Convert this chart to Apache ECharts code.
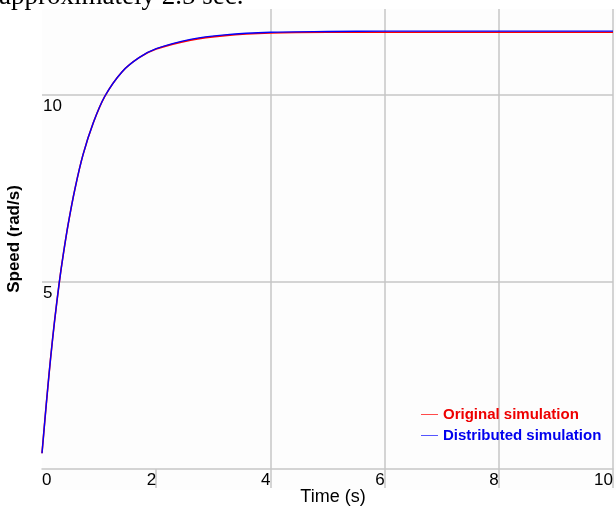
<!DOCTYPE html>
<html>
<head>
<meta charset="utf-8">
<script src="https://cdn.jsdelivr.net/npm/echarts@6/dist/echarts.min.js"></script>
<style>
  html, body { margin: 0; padding: 0; background: #fff; }
  #main { width: 616px; height: 506px; }
</style>
</head>
<body>
<div id="main"></div>
<script>
// time (s)
const timeSec = [0, 0.05, 0.1, 0.15, 0.22, 0.3, 0.37, 0.46, 0.58, 0.72, 0.9, 1.1, 1.4, 1.7, 2.0, 2.6, 3.2, 4.0, 5, 6, 7, 8, 9, 10];
// speed (rad/s)
const speedOriginal = [0.42, 1.3, 2.15, 2.95, 3.95, 4.95, 5.7, 6.55, 7.5, 8.4, 9.25, 9.95, 10.6, 10.98, 11.21, 11.45, 11.57, 11.64, 11.66, 11.66, 11.66, 11.66, 11.66, 11.66];
const speedDistributed = [0.42, 1.3, 2.15, 2.95, 3.95, 4.95, 5.7, 6.55, 7.5, 8.4, 9.25, 9.95, 10.6, 10.98, 11.22, 11.47, 11.59, 11.66, 11.68, 11.69, 11.69, 11.69, 11.69, 11.69];
const xTicks = [2, 4, 6, 8, 10];
const seriesNames = ["Original simulation", "Distributed simulation"];
const seriesColors = ["#ff0000", "#0000ff"];

const pairs = (xs, ys) => xs.map((x, i) => [x, ys[i]]);

const chart = echarts.init(document.getElementById("main"), null, { renderer: "canvas" });

const gridColor = "#c6c6c6";
const labelFont = "Liberation Sans, Arial, sans-serif";

const option = {
  animation: false,
  backgroundColor: "#ffffff",
  graphic: [
    {
      type: "rect",
      z: -10,
      shape: { x: 42, y: 9, width: 574, height: 481 },
      style: { fill: "#fdfdfd" },
      silent: true,
    },
    {
      // caption of the page above the figure, mostly cut off
      type: "text",
      x: -1,
      y: 10,
      style: {
        text: "approximately 2.5 sec.",
        font: "27px 'Liberation Serif', 'Times New Roman', serif",
        fill: "#000",
        verticalAlign: "bottom",
      },
      silent: true,
    },
  ],
  grid: { left: 42, right: 3, top: 9, bottom: 37, containLabel: false, outerBoundsMode: "none" },
  legend: {
    orient: "vertical",
    left: 421,
    top: 407,
    padding: 0,
    icon: "rect",
    itemWidth: 17,
    itemHeight: 1,
    itemGap: 6,
    textStyle: { fontFamily: labelFont, fontSize: 15, fontWeight: "bold" },
    data: [
      { name: seriesNames[0], itemStyle: { color: "#ff4a4a" }, textStyle: { color: "#ee0000" } },
      { name: seriesNames[1], itemStyle: { color: "#5555ff" }, textStyle: { color: "#0000ee" } },
    ],
  },
  xAxis: {
    type: "value",
    min: 0,
    max: 10,
    interval: 2,
    name: "Time (s)",
    nameLocation: "middle",
    nameGap: 19,
    nameMoveOverlap: false,
    nameTextStyle: { fontFamily: labelFont, fontSize: 18, color: "#000", verticalAlign: "top", padding: [0, 0, 0, 11] },
    axisLine: { show: true, lineStyle: { color: gridColor, width: 1.5 } },
    axisTick: { show: true, inside: false, length: 19, customValues: xTicks, lineStyle: { color: gridColor, width: 1.5 } },
    axisLabel: {
      fontFamily: labelFont,
      fontSize: 17,
      color: "#000",
      margin: 3,
      align: "right",
      alignMinLabel: "left",
      alignMaxLabel: "right",
    },
    splitLine: { show: true, showMinLine: false, lineStyle: { color: gridColor, width: 1.5 } },
  },
  yAxis: {
    type: "value",
    min: 0,
    max: 12.28,
    interval: 5,
    name: "Speed (rad/s)",
    nameLocation: "middle",
    nameGap: 19,
    nameMoveOverlap: false,
    nameTextStyle: { fontFamily: labelFont, fontSize: 17, fontWeight: "bold", color: "#000" },
    axisLine: { show: false },
    axisTick: { show: false },
    axisLabel: {
      inside: true,
      margin: 1,
      fontFamily: labelFont,
      fontSize: 17,
      color: "#000",
      align: "left",
      verticalAlign: "top",
      padding: [3, 0, 0, 0],
      showMinLabel: false,
      showMaxLabel: false,
    },
    splitLine: { show: true, showMinLine: false, showMaxLine: false, lineStyle: { color: gridColor, width: 1.5 } },
  },
  series: [
    {
      name: seriesNames[0],
      type: "line",
      color: seriesColors[0],
      showSymbol: false,
      smooth: 0.3,
      itemStyle: { color: seriesColors[0] },
      lineStyle: { width: 1.6, color: seriesColors[0] },
      data: pairs(timeSec, speedOriginal),
      z: 2,
    },
    {
      name: seriesNames[1],
      type: "line",
      color: seriesColors[1],
      showSymbol: false,
      smooth: 0.3,
      itemStyle: { color: seriesColors[1] },
      lineStyle: { width: 1.4, color: seriesColors[1] },
      data: pairs(timeSec, speedDistributed),
      z: 3,
    },
  ],
};

chart.setOption(option);
</script>
</body>
</html>
